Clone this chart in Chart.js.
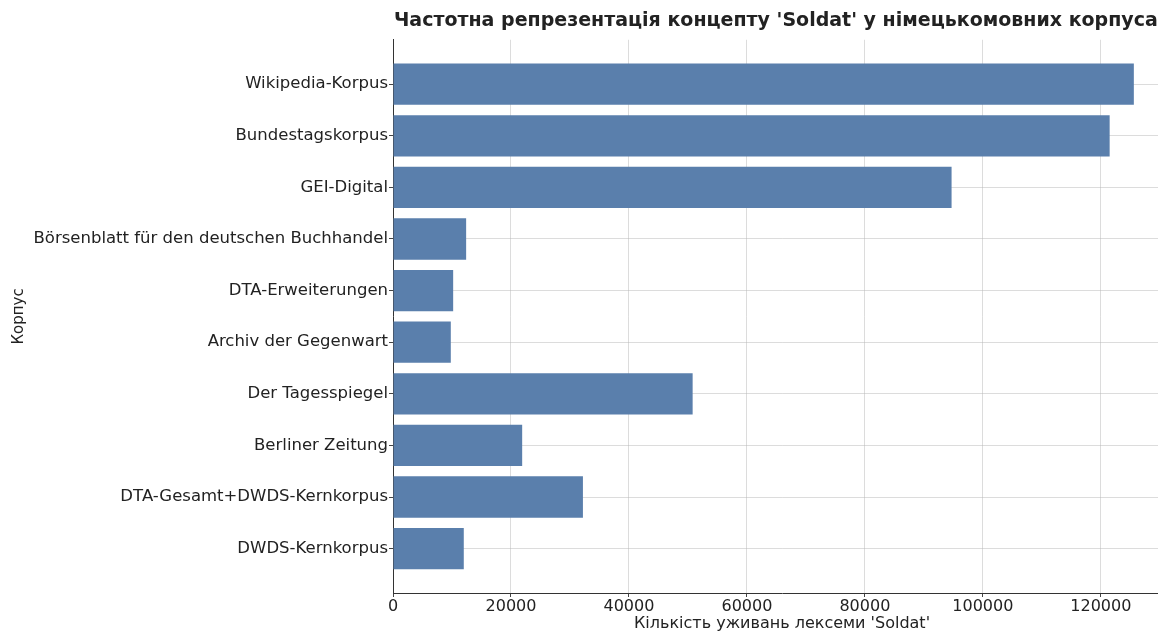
<!DOCTYPE html>
<html>
<head>
<meta charset="utf-8">
<script src="https://cdn.jsdelivr.net/npm/chart.js@4.4.1/dist/chart.umd.min.js"></script>
<style>
  html, body { margin: 0; padding: 0; background: #fff; overflow: hidden; }
  #wrap { position: relative; width: 1180px; height: 633px; }
</style>
</head>
<body>
<div id="wrap"><canvas id="c" width="1180" height="633"></canvas></div>
<script>
const categories = [
  "Wikipedia-Korpus",
  "Bundestagskorpus",
  "GEI-Digital",
  "Börsenblatt für den deutschen Buchhandel",
  "DTA-Erweiterungen",
  "Archiv der Gegenwart",
  "Der Tagesspiegel",
  "Berliner Zeitung",
  "DTA-Gesamt+DWDS-Kernkorpus",
  "DWDS-Kernkorpus"
];
const values = [125600, 121500, 94700, 12400, 10200, 9800, 50800, 21900, 32200, 12000];
const xTicks = [0, 20000, 40000, 60000, 80000, 100000, 120000];
const titleText = "Частотна репрезентація концепту 'Soldat' у німецькомовних корпусах";
const xTitle = "Кількість уживань лексеми 'Soldat'";
const yTitle = "Корпус";

const FONT = "'DejaVu Sans', sans-serif";

new Chart(document.getElementById('c'), {
  type: 'bar',
  data: {
    datasets: [{
      data: values.map((v, i) => ({ x: v, y: i })),
      backgroundColor: '#5a7fac',
      borderWidth: 0,
      categoryPercentage: 1.0,
      barPercentage: 0.8
    }]
  },
  options: {
    indexAxis: 'y',
    responsive: false,
    animation: false,
    layout: { padding: { left: 0, right: 9, top: 0, bottom: 0 } },
    plugins: {
      legend: { display: false },
      tooltip: { enabled: false },
      title: {
        display: true,
        text: titleText,
        fullSize: false,
        color: '#222',
        font: { family: FONT, size: 19, weight: 'bold' },
        padding: { top: 10, bottom: 7 }
      }
    },
    scales: {
      x: {
        type: 'linear',
        min: 0,
        max: 131900,
        offset: false,
        z: 1,
        afterBuildTicks: s => { s.ticks = xTicks.map(v => ({ value: v })); },
        afterFit: s => { s.height = 40; },
        ticks: {
          color: '#222',
          font: { family: FONT, size: 16 },
          padding: 0,
          maxRotation: 0,
          callback: v => String(v)
        },
        grid: {
          offset: false,
          color: 'rgba(185,185,185,0.5)',
          lineWidth: 1,
          tickColor: '#444',
          tickLength: 4
        },
        border: { display: true, color: '#333', width: 1 },
        title: {
          display: true,
          text: xTitle,
          color: '#222',
          font: { family: FONT, size: 16 },
          padding: { top: 2, bottom: 0 }
        }
      },
      y: {
        type: 'linear',
        reverse: true,
        min: -0.86,
        max: 9.86,
        offset: false,
        z: 1,
        afterBuildTicks: s => { s.ticks = categories.map((_, i) => ({ value: i })); },
        afterFit: s => { s.width = 393; },
        ticks: {
          color: '#222',
          font: { family: FONT, size: 16.5 },
          padding: 1,
          callback: v => categories[v]
        },
        grid: {
          offset: false,
          color: 'rgba(185,185,185,0.5)',
          lineWidth: 1,
          tickColor: '#444',
          tickLength: 4
        },
        border: { display: true, color: '#333', width: 1 },
        title: {
          display: true,
          text: yTitle,
          color: '#222',
          font: { family: FONT, size: 15 },
          padding: { top: 10, bottom: 0 }
        }
      }
    }
  }
});
</script>
</body>
</html>
